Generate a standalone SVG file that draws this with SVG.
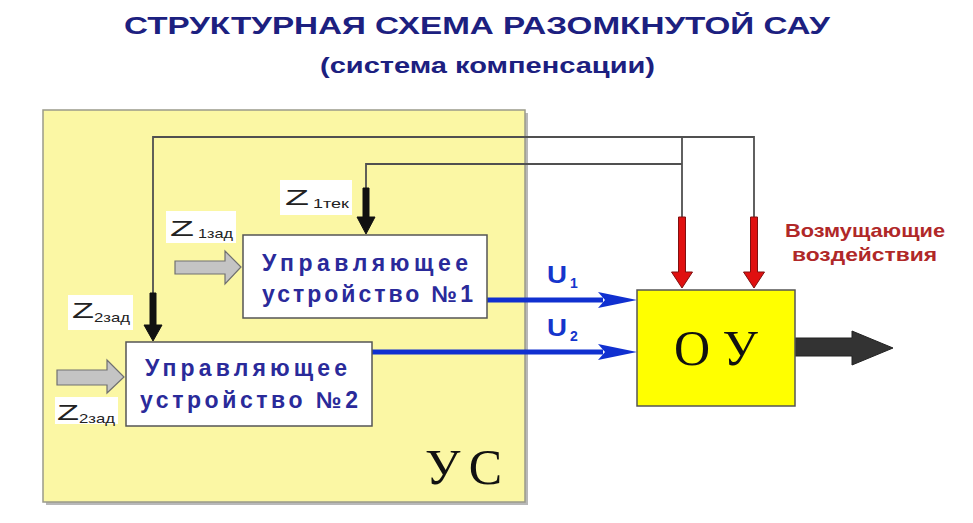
<svg xmlns="http://www.w3.org/2000/svg" width="973" height="523" viewBox="0 0 973 523">
<style>
.title{font-family:"Liberation Sans",Arial,sans-serif;font-weight:bold;fill:#1c2080}
.box{fill:#ffffff;stroke:#555;stroke-width:1.5}
.bt{font-family:"Liberation Sans",Arial,sans-serif;font-weight:bold;font-size:23px;fill:#2a2a9a}
.zl{font-family:"Liberation Sans",Arial,sans-serif;fill:#222}
.thin{fill:none;stroke:#505050;stroke-width:1.8}
.blk{fill:#111;stroke:#111;stroke-width:1}
.red{fill:#e01010;stroke:#801010;stroke-width:1}
.gray{fill:#c4c4c4;stroke:#707070;stroke-width:1.2}
.blue{fill:#1030d0}
.ul{font-family:"Liberation Sans",Arial,sans-serif;font-weight:bold;fill:#1535cc}
.serif{font-family:"Liberation Serif","Times New Roman",serif;fill:#111}
.wbg{fill:#ffffff}
.dist{font-family:"Liberation Sans",Arial,sans-serif;font-weight:bold;font-size:19px;fill:#b02828}
</style>
<rect width="973" height="523" fill="#ffffff"/>
<g id="title">
<text class="title" x="124" y="34" font-size="23" textLength="706" lengthAdjust="spacingAndGlyphs">СТРУКТУРНАЯ СХЕМА РАЗОМКНУТОЙ САУ</text>
<text class="title" x="320" y="73" font-size="22" textLength="335" lengthAdjust="spacingAndGlyphs">(система компенсации)</text>
</g>
<g id="US">
<rect x="46" y="113" width="482" height="392" fill="#b8b8b8"/>
<rect x="43" y="110" width="482" height="392" fill="#fbf7a4" stroke="#9a9a8a" stroke-width="1.5"/>
<text class="serif" x="425" y="484" font-size="50" textLength="77" lengthAdjust="spacing">У С</text>
</g>
<g id="connectors">
<path class="thin" d="M153,293 V137 H754 V218 M682,137 V218 M366,188 V164 H682"/>
<path class="blk" d="M150,293 h6 v32 h6 l-9,16 l-9,-16 h6 z"/>
<path class="blk" d="M363,188 h6 v29 h6 l-9,17 l-9,-17 h6 z"/>
<path class="red" d="M678.5,217 h7 v55 h7 l-10.5,16 l-10.5,-16 h7 z"/>
<path class="red" d="M750.5,217 h7 v55 h7 l-10.5,16 l-10.5,-16 h7 z"/>
<rect class="blue" x="487" y="297.5" width="116" height="5"/>
<path class="blue" d="M598,292 L637,300 L598,308 L605,300 z"/>
<rect class="blue" x="372" y="349.5" width="231" height="5"/>
<path class="blue" d="M598,344 L637,352 L598,360 L605,352 z"/>
<path class="gray" d="M175,261 H225 V251 L241,267 L225,284 V274 H175 z"/>
<path class="gray" d="M57,370 H107 V360 L124,377 L107,393 V385 H57 z"/>
<path d="M795,338 H852 V331 L893,348 L852,365 V356 H795 z" fill="#333" stroke="#222" stroke-width="1"/>
</g>
<g id="labels">
<rect class="wbg" x="166" y="211" width="70" height="32"/>
<text class="zl" x="170" y="236" font-size="22" textLength="24" lengthAdjust="spacingAndGlyphs">Z</text>
<text class="zl" x="198" y="238" font-size="13" textLength="35" lengthAdjust="spacingAndGlyphs">1зад</text>
<rect class="wbg" x="280" y="180" width="72" height="35"/>
<text class="zl" x="285" y="205" font-size="22" textLength="24" lengthAdjust="spacingAndGlyphs">Z</text>
<text class="zl" x="313" y="208" font-size="13" textLength="36" lengthAdjust="spacingAndGlyphs">1тек</text>
<rect class="wbg" x="68" y="295" width="65" height="35"/>
<text class="zl" x="72" y="318" font-size="22" textLength="22" lengthAdjust="spacingAndGlyphs">Z</text>
<text class="zl" x="94" y="322" font-size="13" textLength="36" lengthAdjust="spacingAndGlyphs">2зад</text>
<rect class="wbg" x="55" y="397" width="63" height="27"/>
<text class="zl" x="57" y="420" font-size="22" textLength="22" lengthAdjust="spacingAndGlyphs">Z</text>
<text class="zl" x="79" y="423" font-size="13" textLength="36" lengthAdjust="spacingAndGlyphs">2зад</text>
<text class="ul" x="547" y="283" font-size="24" textLength="20" lengthAdjust="spacingAndGlyphs">U</text>
<text class="ul" x="570" y="288" font-size="14">1</text>
<text class="ul" x="547" y="336" font-size="24" textLength="20" lengthAdjust="spacingAndGlyphs">U</text>
<text class="ul" x="570" y="341" font-size="14">2</text>
<text class="dist" x="785" y="237" textLength="160" lengthAdjust="spacingAndGlyphs">Возмущающие</text>
<text class="dist" x="792" y="261" textLength="145" lengthAdjust="spacingAndGlyphs">воздействия</text>
</g>
<g id="UU1">
<rect class="box" x="243" y="235" width="244" height="83"/>
<text class="bt" x="262" y="271" textLength="206" lengthAdjust="spacing">Управляющее</text>
<text class="bt" x="262" y="302" textLength="211" lengthAdjust="spacing">устройство №1</text>
</g>
<g id="UU2">
<rect class="box" x="126" y="342" width="246" height="84"/>
<text class="bt" x="145" y="376" textLength="202" lengthAdjust="spacing">Управляющее</text>
<text class="bt" x="140" y="408" textLength="218" lengthAdjust="spacing">устройство №2</text>
</g>
<g id="OU">
<rect x="637" y="290" width="158" height="116" fill="#ffff00" stroke="#555" stroke-width="1.5"/>
<text class="serif" x="674" y="365" font-size="50" textLength="84" lengthAdjust="spacing">О У</text>
</g>
</svg>
